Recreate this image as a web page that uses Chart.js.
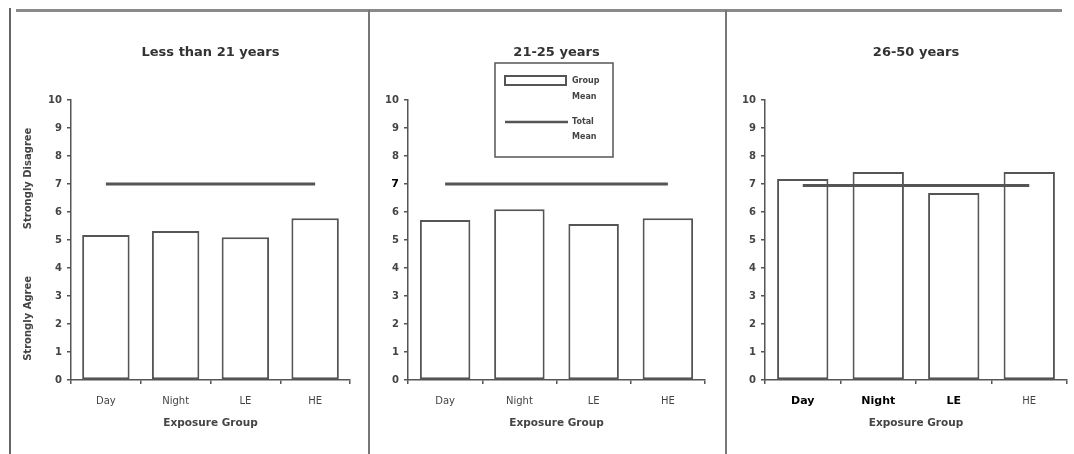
<!DOCTYPE html>
<html>
<head>
<meta charset="utf-8">
<script src="https://cdn.jsdelivr.net/npm/chart.js@4"></script>
<style>
  body { margin:0; background:#fff; width:1074px; height:454px; overflow:hidden; position:relative; }
  canvas { position:absolute; top:0; }
  .rule { position:absolute; background:#8a8a8a; }
</style>
</head>
<body>
<div class="rule" style="left:16px; top:9px; width:1046px; height:3px;"></div>
<div class="rule" style="left:9px; top:8px; width:2px; height:446px; background:#666;"></div>
<div class="rule" style="left:368px; top:10px; width:2px; height:444px; background:#777;"></div>
<div class="rule" style="left:725px; top:10px; width:2px; height:444px; background:#777;"></div>

<canvas id="c1" width="358" height="454" style="left:10px"></canvas>
<canvas id="c2" width="355" height="454" style="left:370px"></canvas>
<canvas id="c3" width="347" height="454" style="left:727px"></canvas>

<script>
const groups = ['Day', 'Night', 'LE', 'HE'];
const panelTitles = ['Less than 21 years', '21-25 years', '26-50 years'];

// group means
const meansUnder21 = [5.18, 5.32, 5.10, 5.78];
const means21to25 = [5.71, 6.10, 5.57, 5.78];
const means26to50 = [7.18, 7.43, 6.68, 7.43];

// total mean line for each panel
const totalMeans = [7.0, 7.0, 6.95];

const yMin = 0;
const yMax = 10;

const ink = '#555';
const textCol = '#444';
const fam = '"DejaVu Sans", sans-serif';

// axis title for the first panel (two separate labels)
const yLabelPlugin = {
    id: 'yLabels',
    afterDraw(chart){
        const c = chart.ctx;
        const y = chart.scales.y;
        c.save();
        c.fillStyle = textCol;
        c.font = 'bold 10px ' + fam;
        c.textAlign = 'center';
        c.textBaseline = 'middle';
        [['Strongly Agree', 2.2], ['Strongly Disagree', 7.2]].forEach(([t, v]) => {
            c.save();
            c.translate(18, y.getPixelForValue(v));
            c.rotate(-Math.PI / 2);
            c.fillText(t, 0, 0);
            c.restore();
        });
        c.restore();
    }
};

// boxed legend for the middle panel
const legendPlugin = {
    id: 'boxLegend',
    afterDraw(chart){
        const c = chart.ctx;
        const x0 = 125, y0 = 63, w = 118, h = 94;
        c.save();
        c.strokeStyle = ink;
        c.lineWidth = 1.5;
        c.strokeRect(x0, y0, w, h);
        c.lineWidth = 2;
        c.strokeRect(x0 + 10, y0 + 13, 61, 9);
        c.lineWidth = 2.5;
        c.beginPath();
        c.moveTo(x0 + 10, y0 + 59);
        c.lineTo(x0 + 73, y0 + 59);
        c.stroke();
        c.fillStyle = textCol;
        c.font = 'bold 8px ' + fam;
        c.textBaseline = 'middle';
        const labels = chart.data.datasets.map(d => d.label).reverse();
        const rows = [[y0 + 18, y0 + 34], [y0 + 59, y0 + 74]];
        labels.forEach((lab, i) => {
            const parts = lab.split(' ');
            c.fillText(parts[0], x0 + 77, rows[i][0]);
            c.fillText(parts[1], x0 + 77, rows[i][1]);
        });
        c.restore();
    }
};

function makePanel(id, title, means, total, axisW, padRight, extra){
    const opts = extra || {};
    return new Chart(document.getElementById(id), {
        type: 'bar',
        data: {
            labels: groups,
            datasets: [
                {
                    type: 'line',
                    label: 'Total Mean',
                    data: groups.map(() => total),
                    borderColor: ink,
                    borderWidth: 3,
                    pointRadius: 0,
                    fill: false,
                    order: 0
                },
                {
                    label: 'Group Mean',
                    data: means,
                    backgroundColor: '#fff',
                    borderColor: ink,
                    borderWidth: 2,
                    borderSkipped: false,
                    barPercentage: 0.68,
                    categoryPercentage: 1,
                    order: 1
                }
            ]
        },
        options: {
            responsive: false,
            animation: false,
            layout: { padding: { top: 45, right: padRight, bottom: 0, left: 0 } },
            plugins: {
                legend: { display: false },
                tooltip: { enabled: false },
                title: {
                    display: true,
                    text: title,
                    fullSize: false,
                    color: '#333',
                    font: { family: fam, size: 13, weight: 'bold' },
                    padding: { top: 0, bottom: 39.4 }
                }
            },
            scales: {
                x: {
                    afterFit: s => { s.height = 74; },
                    grid: { drawOnChartArea: false, offset: true, tickLength: 4, color: ink, lineWidth: 1.5 },
                    border: { color: ink, width: 1.5 },
                    ticks: {
                        padding: 11,
                        color: opts.xColor || textCol,
                        font: opts.xFont || { family: fam, size: 10 }
                    },
                    title: {
                        display: true,
                        text: 'Exposure Group',
                        color: textCol,
                        font: { family: fam, size: 10.5, weight: 'bold' },
                        padding: { top: 0, bottom: 24 }
                    }
                },
                y: {
                    min: yMin,
                    max: yMax,
                    afterFit: s => { s.width = axisW; },
                    grid: { drawOnChartArea: false, tickLength: 4, color: ink, lineWidth: 1.5 },
                    border: { color: ink, width: 1.5 },
                    ticks: {
                        stepSize: 1,
                        padding: 5,
                        color: opts.yColor || textCol,
                        font: opts.yFont || { family: fam, size: 10, weight: 'bold' }
                    }
                }
            }
        },
        plugins: opts.plugins || []
    });
}

const isSeven = ctx => !!(ctx.tick && ctx.tick.value === 7);
const isBoldGroup = ctx => ctx.index !== undefined && ctx.index < 3;

makePanel('c1', panelTitles[0], meansUnder21, totalMeans[0], 61, 18, { plugins: [yLabelPlugin] });

makePanel('c2', panelTitles[1], means21to25, totalMeans[1], 38, 20, {
    plugins: [legendPlugin],
    yColor: ctx => isSeven(ctx) ? '#000' : textCol,
    yFont: ctx => ({ family: fam, size: isSeven(ctx) ? 11 : 10, weight: 'bold' })
});

makePanel('c3', panelTitles[2], means26to50, totalMeans[2], 38, 7, {
    xColor: ctx => isBoldGroup(ctx) ? '#000' : textCol,
    xFont: ctx => ({ family: fam, size: isBoldGroup(ctx) ? 11 : 10, weight: isBoldGroup(ctx) ? 'bold' : 'normal' })
});
</script>
</body>
</html>
